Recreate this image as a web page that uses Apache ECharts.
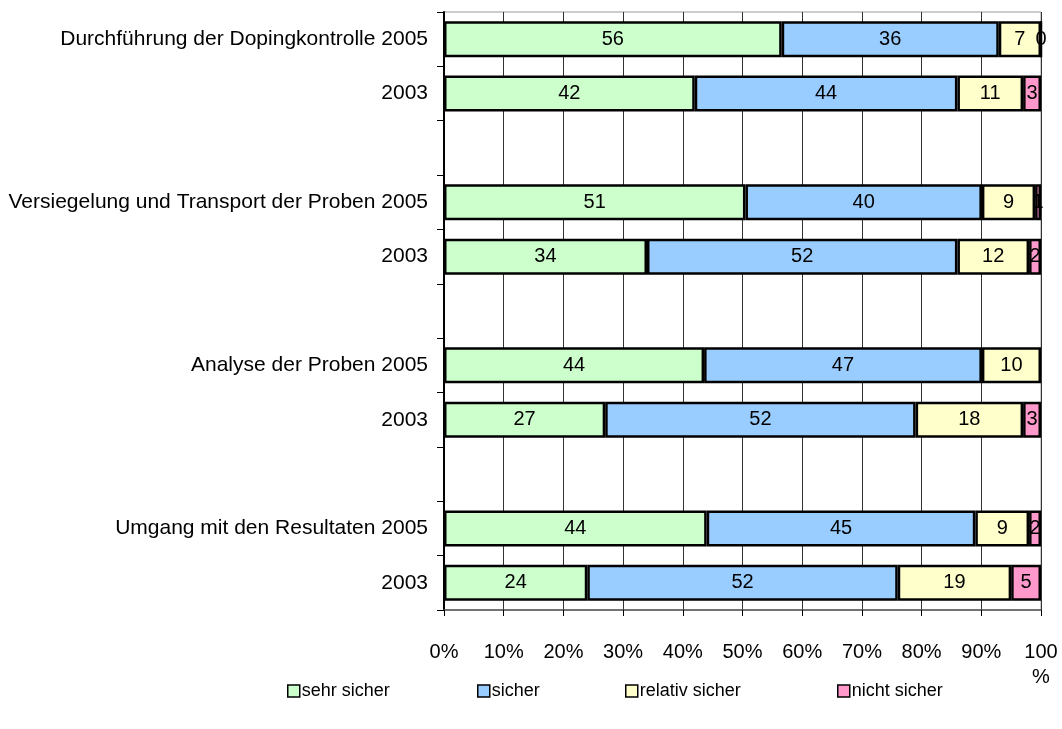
<!DOCTYPE html>
<html>
<head>
<meta charset="utf-8">
<script src="https://cdn.jsdelivr.net/npm/echarts@6/dist/echarts.min.js"></script>
<style>html,body{margin:0;padding:0;background:#fff;}#c{width:1062px;height:729px;}</style>
</head>
<body>
<div id="c"></div>
<script>
const categories = [
  'Durchführung der Dopingkontrolle 2005', '2003', '',
  'Versiegelung und Transport der Proben 2005', '2003', ' ',
  'Analyse der Proben 2005', '2003', '  ',
  'Umgang mit den Resultaten 2005', '2003'
];
const seriesNames = ['sehr sicher', 'sicher', 'relativ sicher', 'nicht sicher'];
const sehrSicher   = [56, 42, null, 51, 34, null, 44, 27, null, 44, 24];
const sicher       = [36, 44, null, 40, 52, null, 47, 52, null, 45, 52];
const relativSicher= [7, 11, null, 9, 12, null, 10, 18, null, 9, 19];
const nichtSicher  = [0, 3, null, 1, 2, null, null, 3, null, 2, 5];
const xTicks = [0, 10, 20, 30, 40, 50, 60, 70, 80, 90, 100];

const raw = [sehrSicher, sicher, relativSicher, nichtSicher];
const colors = ['#CCFFCC', '#99CCFF', '#FFFFCC', '#FF99CC'];
const sums = categories.map((c, i) => raw.reduce((s, arr) => s + (arr[i] || 0), 0));

const FONT = 'Liberation Sans, Arial, sans-serif';

const series = raw.map((arr, k) => ({
  name: seriesNames[k],
  type: 'bar',
  stack: 'total',
  barWidth: 36,
  data: arr.map((v, i) => v === null ? null : v / sums[i] * 100),
  itemStyle: { color: colors[k], borderColor: '#000', borderWidth: 2.5 },
  label: {
    show: true,
    position: 'inside',
    color: '#000',
    fontFamily: FONT,
    fontSize: 20,
    formatter: p => String(arr[p.dataIndex])
  },
  emphasis: { disabled: true }
}));

const legendLefts = [287, 477, 625, 837];
const legends = seriesNames.map((n, k) => ({
  data: [n],
  left: legendLefts[k],
  top: 682,
  icon: 'rect',
  itemWidth: 12,
  itemHeight: 12,
  itemGap: 4,
  padding: 0,
  itemStyle: { borderColor: '#000', borderWidth: 1.5 },
  textStyle: { color: '#000', fontFamily: FONT, fontSize: 18, padding: [0, 0, 0, -3] },
  selectedMode: false
}));

const chart = echarts.init(document.getElementById('c'), null, { renderer: 'canvas' });
chart.setOption({
  animation: false,
  backgroundColor: '#fff',
  grid: { left: 444, right: 21, top: 12, bottom: 119, show: true, borderColor: '#999', borderWidth: 1, backgroundColor: 'transparent' },
  legend: legends,
  xAxis: {
    type: 'value',
    min: xTicks[0],
    max: xTicks[xTicks.length - 1],
    interval: 10,
    axisLine: { show: true, lineStyle: { color: '#555', width: 1.5 } },
    axisTick: { show: true, length: 6, lineStyle: { color: '#000', width: 1 } },
    splitLine: { show: true, lineStyle: { color: '#333', width: 1 } },
    axisLabel: {
      color: '#000', fontFamily: FONT, fontSize: 20, margin: 30, lineHeight: 25,
      formatter: v => v === 100 ? '100\n%' : v + '%'
    }
  },
  yAxis: {
    type: 'category',
    inverse: true,
    data: categories,
    axisLine: { show: true, lineStyle: { color: '#000', width: 2 } },
    axisTick: { show: true, length: 7, lineStyle: { color: '#000', width: 1 } },
    axisLabel: { color: '#000', fontFamily: FONT, fontSize: 21, margin: 16 },
    splitLine: { show: false }
  },
  series: series
});
</script>
</body>
</html>
